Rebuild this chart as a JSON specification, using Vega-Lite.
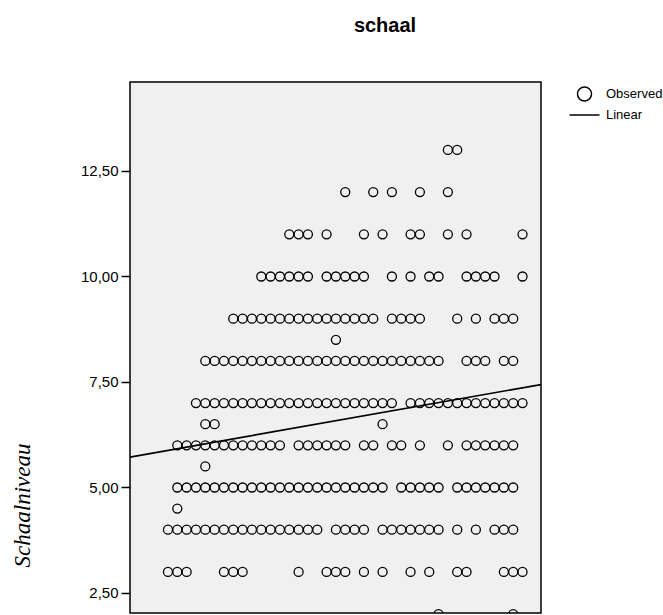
{
  "$schema": "https://vega.github.io/schema/vega-lite/v6.json",
  "width": 411,
  "height": 531,
  "autosize": {"type": "none"},
  "padding": {"left": 130, "top": 82, "right": 122, "bottom": 2},
  "background": "white",
  "config": {
    "view": {"fill": "#F0F0F0", "stroke": "#000000", "strokeWidth": 1.5},
    "font": "Liberation Sans"
  },
  "title": {
    "text": "schaal",
    "font": "Liberation Sans",
    "fontSize": 20,
    "fontWeight": "bold",
    "color": "#000000",
    "anchor": "middle",
    "frame": "group",
    "dx": 49.5,
    "offset": 30,
    "baseline": "alphabetic"
  },
  "datasets": {
    "observed": [
      {"x":30,"y":13},{"x":31,"y":13},
      {"x":19,"y":12},{"x":22,"y":12},{"x":24,"y":12},{"x":27,"y":12},{"x":30,"y":12},
      {"x":13,"y":11},{"x":14,"y":11},{"x":15,"y":11},{"x":17,"y":11},{"x":21,"y":11},{"x":23,"y":11},{"x":26,"y":11},{"x":27,"y":11},{"x":30,"y":11},{"x":32,"y":11},{"x":38,"y":11},
      {"x":10,"y":10},{"x":11,"y":10},{"x":12,"y":10},{"x":13,"y":10},{"x":14,"y":10},{"x":15,"y":10},{"x":17,"y":10},{"x":18,"y":10},{"x":19,"y":10},{"x":20,"y":10},{"x":21,"y":10},{"x":24,"y":10},{"x":26,"y":10},{"x":28,"y":10},{"x":29,"y":10},{"x":32,"y":10},{"x":33,"y":10},{"x":34,"y":10},{"x":35,"y":10},{"x":38,"y":10},
      {"x":7,"y":9},{"x":8,"y":9},{"x":9,"y":9},{"x":10,"y":9},{"x":11,"y":9},{"x":12,"y":9},{"x":13,"y":9},{"x":14,"y":9},{"x":15,"y":9},{"x":16,"y":9},{"x":17,"y":9},{"x":18,"y":9},{"x":19,"y":9},{"x":20,"y":9},{"x":21,"y":9},{"x":22,"y":9},{"x":24,"y":9},{"x":25,"y":9},{"x":26,"y":9},{"x":27,"y":9},{"x":31,"y":9},{"x":33,"y":9},{"x":35,"y":9},{"x":36,"y":9},{"x":37,"y":9},
      {"x":18,"y":8.5},
      {"x":4,"y":8},{"x":5,"y":8},{"x":6,"y":8},{"x":7,"y":8},{"x":8,"y":8},{"x":9,"y":8},{"x":10,"y":8},{"x":11,"y":8},{"x":12,"y":8},{"x":13,"y":8},{"x":14,"y":8},{"x":15,"y":8},{"x":16,"y":8},{"x":17,"y":8},{"x":18,"y":8},{"x":19,"y":8},{"x":20,"y":8},{"x":21,"y":8},{"x":22,"y":8},{"x":23,"y":8},{"x":24,"y":8},{"x":25,"y":8},{"x":26,"y":8},{"x":27,"y":8},{"x":28,"y":8},{"x":29,"y":8},{"x":32,"y":8},{"x":33,"y":8},{"x":34,"y":8},{"x":36,"y":8},{"x":37,"y":8},
      {"x":3,"y":7},{"x":4,"y":7},{"x":5,"y":7},{"x":6,"y":7},{"x":7,"y":7},{"x":8,"y":7},{"x":9,"y":7},{"x":10,"y":7},{"x":11,"y":7},{"x":12,"y":7},{"x":13,"y":7},{"x":14,"y":7},{"x":15,"y":7},{"x":16,"y":7},{"x":17,"y":7},{"x":18,"y":7},{"x":19,"y":7},{"x":20,"y":7},{"x":21,"y":7},{"x":22,"y":7},{"x":23,"y":7},{"x":24,"y":7},{"x":26,"y":7},{"x":27,"y":7},{"x":28,"y":7},{"x":29,"y":7},{"x":30,"y":7},{"x":31,"y":7},{"x":32,"y":7},{"x":33,"y":7},{"x":34,"y":7},{"x":35,"y":7},{"x":36,"y":7},{"x":37,"y":7},{"x":38,"y":7},
      {"x":4,"y":6.5},{"x":5,"y":6.5},{"x":23,"y":6.5},
      {"x":1,"y":6},{"x":2,"y":6},{"x":3,"y":6},{"x":4,"y":6},{"x":5,"y":6},{"x":6,"y":6},{"x":7,"y":6},{"x":8,"y":6},{"x":9,"y":6},{"x":10,"y":6},{"x":11,"y":6},{"x":12,"y":6},{"x":14,"y":6},{"x":15,"y":6},{"x":16,"y":6},{"x":17,"y":6},{"x":18,"y":6},{"x":19,"y":6},{"x":21,"y":6},{"x":22,"y":6},{"x":24,"y":6},{"x":25,"y":6},{"x":27,"y":6},{"x":30,"y":6},{"x":32,"y":6},{"x":33,"y":6},{"x":34,"y":6},{"x":35,"y":6},{"x":36,"y":6},{"x":37,"y":6},
      {"x":4,"y":5.5},
      {"x":1,"y":5},{"x":2,"y":5},{"x":3,"y":5},{"x":4,"y":5},{"x":5,"y":5},{"x":6,"y":5},{"x":7,"y":5},{"x":8,"y":5},{"x":9,"y":5},{"x":10,"y":5},{"x":11,"y":5},{"x":12,"y":5},{"x":13,"y":5},{"x":14,"y":5},{"x":15,"y":5},{"x":16,"y":5},{"x":17,"y":5},{"x":18,"y":5},{"x":19,"y":5},{"x":20,"y":5},{"x":21,"y":5},{"x":22,"y":5},{"x":23,"y":5},{"x":25,"y":5},{"x":26,"y":5},{"x":27,"y":5},{"x":28,"y":5},{"x":29,"y":5},{"x":31,"y":5},{"x":32,"y":5},{"x":33,"y":5},{"x":34,"y":5},{"x":35,"y":5},{"x":36,"y":5},{"x":37,"y":5},
      {"x":1,"y":4.5},
      {"x":0,"y":4},{"x":1,"y":4},{"x":2,"y":4},{"x":3,"y":4},{"x":4,"y":4},{"x":5,"y":4},{"x":6,"y":4},{"x":7,"y":4},{"x":8,"y":4},{"x":9,"y":4},{"x":10,"y":4},{"x":11,"y":4},{"x":12,"y":4},{"x":13,"y":4},{"x":14,"y":4},{"x":15,"y":4},{"x":16,"y":4},{"x":18,"y":4},{"x":19,"y":4},{"x":20,"y":4},{"x":21,"y":4},{"x":23,"y":4},{"x":24,"y":4},{"x":25,"y":4},{"x":26,"y":4},{"x":27,"y":4},{"x":28,"y":4},{"x":29,"y":4},{"x":31,"y":4},{"x":33,"y":4},{"x":35,"y":4},{"x":36,"y":4},{"x":37,"y":4},
      {"x":0,"y":3},{"x":1,"y":3},{"x":2,"y":3},{"x":6,"y":3},{"x":7,"y":3},{"x":8,"y":3},{"x":14,"y":3},{"x":17,"y":3},{"x":18,"y":3},{"x":19,"y":3},{"x":21,"y":3},{"x":23,"y":3},{"x":26,"y":3},{"x":28,"y":3},{"x":31,"y":3},{"x":32,"y":3},{"x":36,"y":3},{"x":37,"y":3},{"x":38,"y":3},
      {"x":29,"y":2},{"x":37,"y":2}
    ],
    "linear": [
      {"x": -4.07, "y": 5.72},
      {"x": 39.98, "y": 7.44}
    ]
  },
  "layer": [
    {
      "data": {"name": "observed"},
      "mark": {"type": "point", "filled": false, "stroke": "#000000", "strokeWidth": 1.3, "size": 372, "opacity": 1, "clip": true},
      "encoding": {
        "x": {"field": "x", "type": "quantitative", "scale": {"domain": [-4.07, 39.98], "nice": false, "zero": false}, "axis": null},
        "y": {
          "field": "y", "type": "quantitative",
          "scale": {"domain": [2.026, 14.609], "nice": false, "zero": false},
          "axis": {
            "values": [2.5, 5, 7.5, 10, 12.5],
            "labelExpr": "replace(format(datum.value, '.2f'), '.', ',')",
            "labelFont": "Liberation Sans",
            "labelFontSize": 15,
            "labelColor": "#000000",
            "ticks": true,
            "tickSize": 9,
            "tickColor": "#000000",
            "tickWidth": 1.5,
            "labelPadding": 3,
            "domain": false,
            "grid": false,
            "title": "Schaalniveau",
            "titleFont": "Liberation Serif",
            "titleFontStyle": "italic",
            "titleFontWeight": "normal",
            "titleFontSize": 23,
            "titleColor": "#000000",
            "titleX": -101,
            "titleY": 423,
            "titleAngle": -90,
            "titleAlign": "center",
            "titleBaseline": "alphabetic"
          }
        },
        "shape": {
          "datum": "Observed",
          "type": "nominal",
          "scale": {
            "domain": ["Observed", "Linear"],
            "range": ["M -0.4667,0 A 0.4667,0.4667 0 1,0 0.4667,0 A 0.4667,0.4667 0 1,0 -0.4667,0 Z", "stroke"]
          },
          "legend": {
            "title": null,
            "orient": "none",
            "legendX": 438.5,
            "legendY": 1.5,
            "padding": 0,
            "symbolStrokeColor": "#000000",
            "symbolFillColor": "transparent",
            "symbolStrokeWidth": 1.5,
            "symbolSize": 900,
            "labelFont": "Liberation Sans",
            "labelFontSize": 13,
            "labelColor": "#000000",
            "labelOffset": 5.5,
            "clipHeight": 21,
            "rowPadding": 0
          }
        }
      }
    },
    {
      "data": {"name": "linear"},
      "mark": {"type": "line", "color": "#000000", "strokeWidth": 1.7, "clip": true},
      "encoding": {
        "x": {"field": "x", "type": "quantitative"},
        "y": {"field": "y", "type": "quantitative"}
      }
    }
  ]
}
